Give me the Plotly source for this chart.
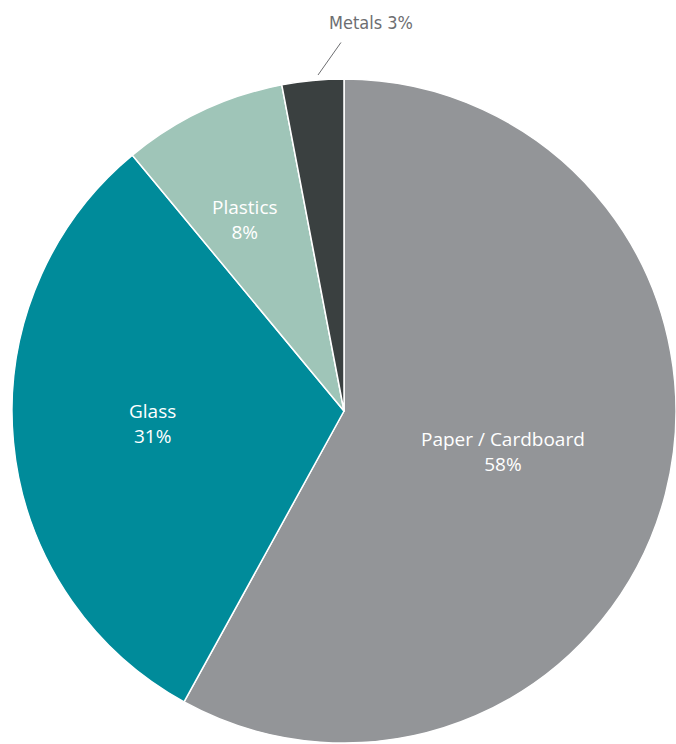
import plotly.graph_objects as go

# Composition of recovered packaging waste by material
materials = ["Paper / Cardboard", "Glass", "Plastics", "Metals"]
shares = [58, 31, 8, 3]
colors = ["#939598", "#008b9a", "#9fc5b8", "#3a4040"]

W, H = 676, 744
cx, cy, r = 344, 411, 332  # pie centre and radius in pixels

fig = go.Figure(
    go.Pie(
        labels=materials,
        values=shares,
        sort=False,
        direction="clockwise",
        rotation=0,
        marker=dict(colors=colors, line=dict(color="white", width=1.5)),
        textinfo="none",
        hoverinfo="label+percent",
        showlegend=False,
        domain=dict(
            x=[(cx - r) / W, (cx + r) / W],
            y=[(H - cy - r) / H, (H - cy + r) / H],
        ),
    )
)

# Slice labels (pixel anchor points for the label text)
label_xy = [(503, 451), (152, 423), (245, 219)]
for name, pct, (lx, ly) in zip(materials[:3], shares[:3], label_xy):
    fig.add_annotation(
        x=lx / W, y=1 - ly / H, xref="paper", yref="paper",
        text=f"{name}<br>{pct}%", showarrow=False,
        xanchor="center", yanchor="middle",
        font=dict(family="Open Sans, sans-serif", size=19, color="white"),
    )

# The small metals slice is labelled outside with a leader line
fig.add_annotation(
    x=371 / W, y=1 - 23 / H, xref="paper", yref="paper",
    text=f"{materials[3]} {shares[3]}%", showarrow=False,
    xanchor="center", yanchor="middle",
    font=dict(family="Liberation Sans Narrow, DejaVu Sans Condensed, Open Sans, sans-serif",
              size=18, color="#6d6e71"),
)
fig.add_annotation(
    x=318 / W, y=1 - 75 / H, xref="paper", yref="paper",
    text="", showarrow=True,
    ax=342 - 318, ay=41 - 75, axref="pixel", ayref="pixel",
    arrowhead=0, arrowwidth=1, arrowcolor="#6d6e71",
    standoff=0, startstandoff=0,
)

fig.update_layout(
    width=W, height=H,
    margin=dict(l=0, r=0, t=0, b=0),
    paper_bgcolor="white",
    plot_bgcolor="white",
)

fig.write_html("out.html")
